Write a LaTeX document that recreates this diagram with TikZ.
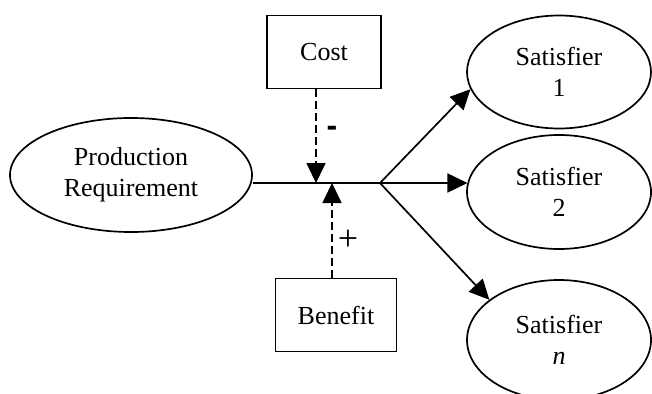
\documentclass[tikz,border=0pt]{standalone}
\usepackage{fontspec}
\setmainfont{Liberation Serif}
\newfontfamily\sansbold{Liberation Sans}
\usetikzlibrary{arrows.meta,shapes.geometric}
\begin{document}
\begin{tikzpicture}[x=1pt,y=-1pt,
  every node/.style={font=\fontsize{26}{31}\selectfont, align=center},
  ell/.style={draw, ellipse, line width=1.7pt, inner sep=0pt},
  boxnode/.style={draw, rectangle, line width=1.7pt, inner sep=0pt},
  conn/.style={line width=1.7pt},
  arr/.style={conn, -{Triangle[length=20pt,width=19pt]}},
  darr/.style={arr, dash pattern=on 8pt off 4pt}]
\useasboundingbox (0,0) rectangle (652,393);
\node[ell, minimum width=242pt, minimum height=114pt] (pr) at (131,175) {Production\\Requirement};
\node[boxnode, minimum width=114pt, minimum height=73pt] (cost) at (324,52) {Cost};
\node[boxnode, minimum width=121pt, minimum height=73pt] (ben) at (336,315) {Benefit};
\node[ell, minimum width=184pt, minimum height=113pt] (s1) at (559,72) {Satisfier\\1};
\node[ell, minimum width=184pt, minimum height=114pt] (s2) at (559,192) {Satisfier\\2};
\node[ell, minimum width=184pt, minimum height=120pt] (sn) at (559,340) {Satisfier\\\textit{n}};
\coordinate (j) at (380,183);
\coordinate (ca) at (316,183);
\coordinate (ba) at (332,183);
\draw[conn] (pr.east |- j) -- (j);
\draw[darr] (cost.south -| ca) -- (ca);
\draw[darr] (ben.north -| ba) -- (ba);
\draw[arr] (j) -- (s1.191);
\draw[arr] (j) -- (j -| s2.174);
\draw[arr] (j) -- (sn.150);
\node[font=\fontsize{32}{32}\selectfont\sansbold\bfseries] (minus) at (332,131) {-};
\node[font=\fontsize{36}{36}\selectfont] (plus) at (348,240) {+};
\end{tikzpicture}
\end{document}
